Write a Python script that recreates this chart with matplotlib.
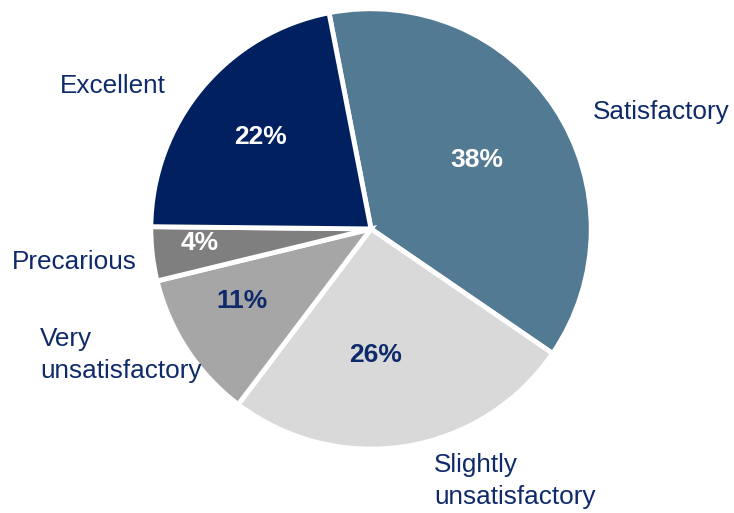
import matplotlib.pyplot as plt
import numpy as np

plt.rcParams['font.family'] = ['Liberation Sans', 'DejaVu Sans']

# survey shares, clockwise from the top
categories = ["Satisfactory", "Slightly\nunsatisfactory", "Very\nunsatisfactory", "Precarious", "Excellent"]
shares = [38, 26, 11, 4, 22]
colors = ["#527A92", "#D9D9D9", "#A6A6A6", "#7F7F7F", "#002060"]
pct_colors = ["white", "#0F2A6B", "#0F2A6B", "white", "white"]

# where the category names and the percentages sit
name_pos = [(1.33, 0.537, "center"), (0.289, -1.156, "left"), (-1.518, -0.578, "left"),
            (-1.362, -0.151, "center"), (-1.183, 0.656, "center")]
pct_radius = [0.58, 0.58, 0.68, 0.79, 0.66]
pct_shift = [0, -7, -4, -2, 0]

fig = plt.figure(figsize=(7.34, 5.13), dpi=100)
ax = fig.add_axes([0, 0, 1, 1])

wedges, _ = ax.pie(shares, colors=colors, startangle=101, counterclock=False,
                   radius=1.01, wedgeprops=dict(edgecolor="white", linewidth=3.5))

for w, v, r, d, c in zip(wedges, shares, pct_radius, pct_shift, pct_colors):
    mid = np.deg2rad((w.theta1 + w.theta2) / 2 + d)
    ax.text(r * np.cos(mid), r * np.sin(mid), f"{v}%", ha="center", va="center",
            fontsize=19, fontweight="bold", color=c)

for name, (x, y, ha) in zip(categories, name_pos):
    ax.text(x, y, name, ha=ha, va="center", fontsize=18.8, color="#0F2A6B", linespacing=1.4)

ax.set_xlim(-1.702, 1.665)
ax.set_ylim(-1.303, 1.050)
ax.set_aspect("equal")
ax.axis("off")

fig.savefig("out.png", dpi=100)
